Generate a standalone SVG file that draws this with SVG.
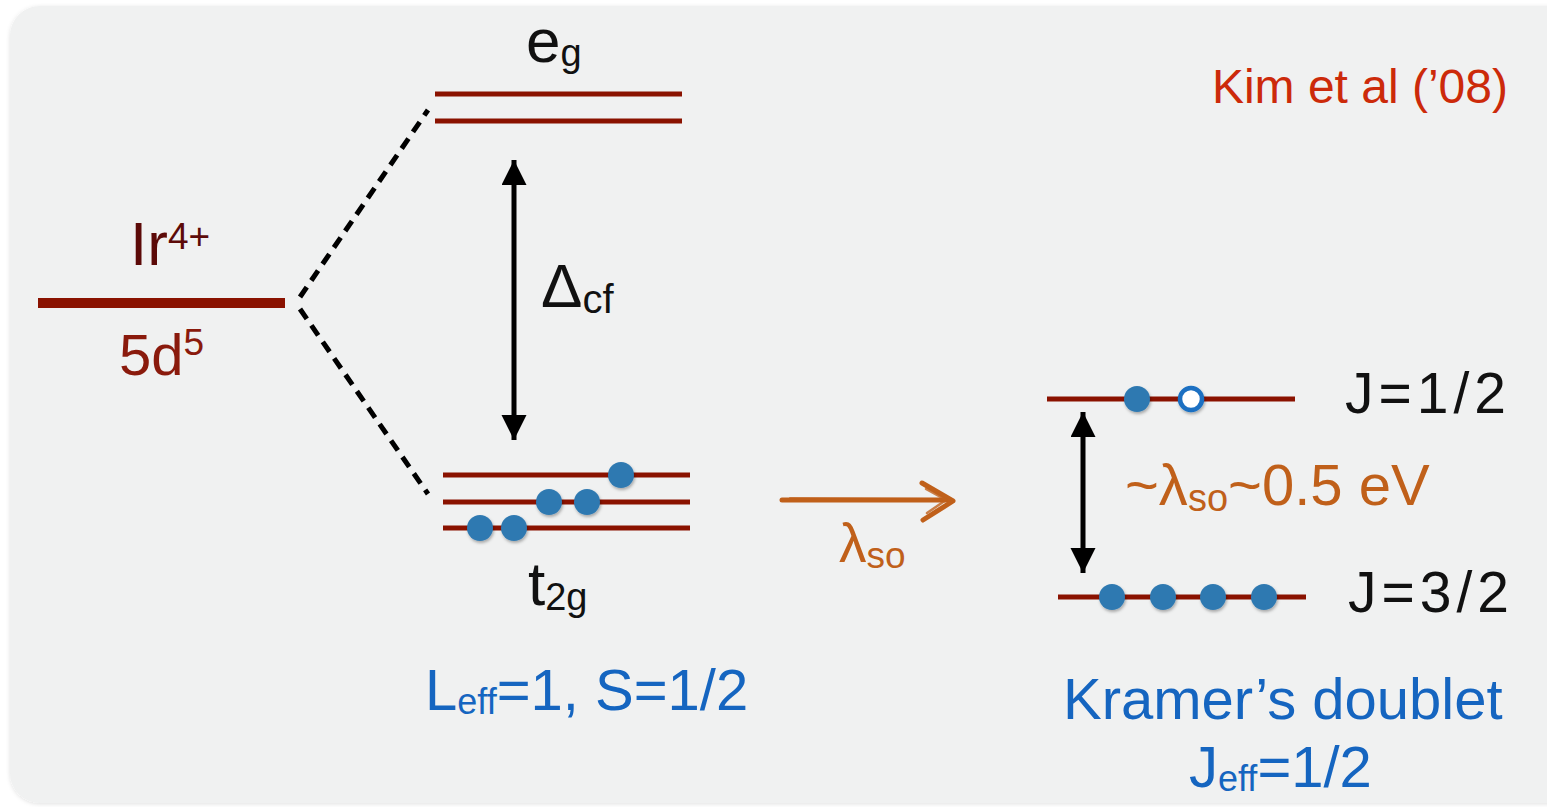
<svg xmlns="http://www.w3.org/2000/svg" width="1547" height="807" viewBox="0 0 1547 807">
<style>
.lvl{stroke:#8a1200;stroke-width:5;fill:none}
.dot{fill:#2f79b1;filter:url(#sh)}
.t{font-family:"Liberation Sans",Arial,sans-serif}
.blk{fill:#111}
.blue{fill:#1565c0}
.org{fill:#c0601a}
.dash{stroke:#000;stroke-width:5;stroke-dasharray:12 8;fill:none}
</style>
<defs>
<filter id="sh" x="-50%" y="-50%" width="200%" height="200%">
<feDropShadow dx="1" dy="2" stdDeviation="1.5" flood-color="#000" flood-opacity="0.3"/>
</filter>
<filter id="bgsh" x="-5%" y="-5%" width="110%" height="110%">
<feDropShadow dx="0" dy="1" stdDeviation="2" flood-color="#000" flood-opacity="0.12"/>
</filter>
<marker id="ah" markerUnits="userSpaceOnUse" markerWidth="26" markerHeight="26" refX="25" refY="12.5" orient="auto-start-reverse">
<path d="M0,0 L25,12.5 L0,25 Z" fill="#000"/>
</marker>
</defs>
<rect x="0" y="0" width="1547" height="807" fill="#ffffff"/>
<rect x="10" y="6" width="1580" height="797" rx="30" fill="#f0f1f1" filter="url(#bgsh)"/>

<g id="ir">
<line x1="38" y1="303" x2="285" y2="303" stroke="#8a1200" stroke-width="10"/>
<text class="t" x="130" y="265" font-size="62" fill="#5c0a08">Ir<tspan font-size="37" dy="-16">4+</tspan></text>
<text class="t" x="119" y="375" font-size="58" fill="#8a1a0c">5d<tspan font-size="37" dy="-20">5</tspan></text>
</g>

<g id="eg">
<line class="lvl" x1="435" y1="94" x2="682" y2="94"/>
<line class="lvl" x1="435" y1="121" x2="682" y2="121"/>
<text class="t blk" x="526" y="62" font-size="62">e<tspan font-size="38" dy="4">g</tspan></text>
</g>

<g id="t2g">
<line class="lvl" x1="443" y1="475" x2="690" y2="475"/>
<line class="lvl" x1="443" y1="502" x2="690" y2="502"/>
<line class="lvl" x1="443" y1="528" x2="690" y2="528"/>
<circle class="dot" cx="621" cy="475" r="13"/>
<circle class="dot" cx="549" cy="502" r="13"/>
<circle class="dot" cx="587" cy="502" r="13"/>
<circle class="dot" cx="480" cy="528" r="13"/>
<circle class="dot" cx="514" cy="528" r="13"/>
<text class="t blk" x="528" y="605" font-size="62">t<tspan font-size="38" dy="5">2g</tspan></text>
<text class="t blue" x="425" y="710" font-size="58">L<tspan font-size="36" dy="4">eff</tspan><tspan dy="-4">=1, S=1/2</tspan></text>
</g>

<g id="j12">
<line class="lvl" x1="1047" y1="399" x2="1295" y2="399"/>
<circle class="dot" cx="1137" cy="399" r="13"/>
<circle cx="1191" cy="399" r="11" fill="#ffffff" stroke="#1a6fc2" stroke-width="4.5" filter="url(#sh)"/>
<text class="t blk" x="1345" y="413" font-size="57" letter-spacing="5">J=1/2</text>
</g>

<g id="j32">
<line class="lvl" x1="1058" y1="597" x2="1306" y2="597"/>
<circle class="dot" cx="1112" cy="597" r="13"/>
<circle class="dot" cx="1163" cy="597" r="13"/>
<circle class="dot" cx="1213" cy="597" r="13"/>
<circle class="dot" cx="1264" cy="597" r="13"/>
<text class="t blk" x="1348" y="612" font-size="57" letter-spacing="5">J=3/2</text>
</g>

<g id="labels">
<text class="t" x="1508" y="103" font-size="48" fill="#cc2a0a" text-anchor="end">Kim et al (’08)</text>
<text class="t blue" x="1063" y="719" font-size="58">Kramer’s doublet</text>
<text class="t blue" x="1189" y="787" font-size="58">J<tspan font-size="36" dy="4">eff</tspan><tspan dy="-4">=1/2</tspan></text>
<text class="t blk" x="541" y="307" font-size="62">Δ<tspan font-size="40" dy="6">cf</tspan></text>
<text class="t org" x="839" y="562" font-size="55">λ<tspan font-size="37" dy="6">so</tspan></text>
<text class="t org" x="1125" y="505" font-size="58">~λ<tspan font-size="38" dy="6">so</tspan><tspan dy="-6">~0.5 eV</tspan></text>
</g>

<g id="connectors">
<path class="dash" d="M300,297 L428,110"/>
<path class="dash" d="M300,309 L428,494"/>
<line x1="514" y1="160" x2="514" y2="440" stroke="#000" stroke-width="5" marker-start="url(#ah)" marker-end="url(#ah)"/>
<line x1="1083" y1="412" x2="1083" y2="573" stroke="#000" stroke-width="5" marker-start="url(#ah)" marker-end="url(#ah)"/>
<g stroke="#c0601a" fill="none" stroke-linecap="round" stroke-linejoin="round">
<line x1="782" y1="500" x2="948" y2="500" stroke-width="5"/>
<line x1="790" y1="498" x2="940" y2="499" stroke-width="2" opacity="0.7"/>
<path d="M922,483 L953,501 L923,520" stroke-width="5"/>
<path d="M926,489 L946,500 L927,513" stroke-width="2.5" opacity="0.8"/>
</g>
</g>
</svg>
